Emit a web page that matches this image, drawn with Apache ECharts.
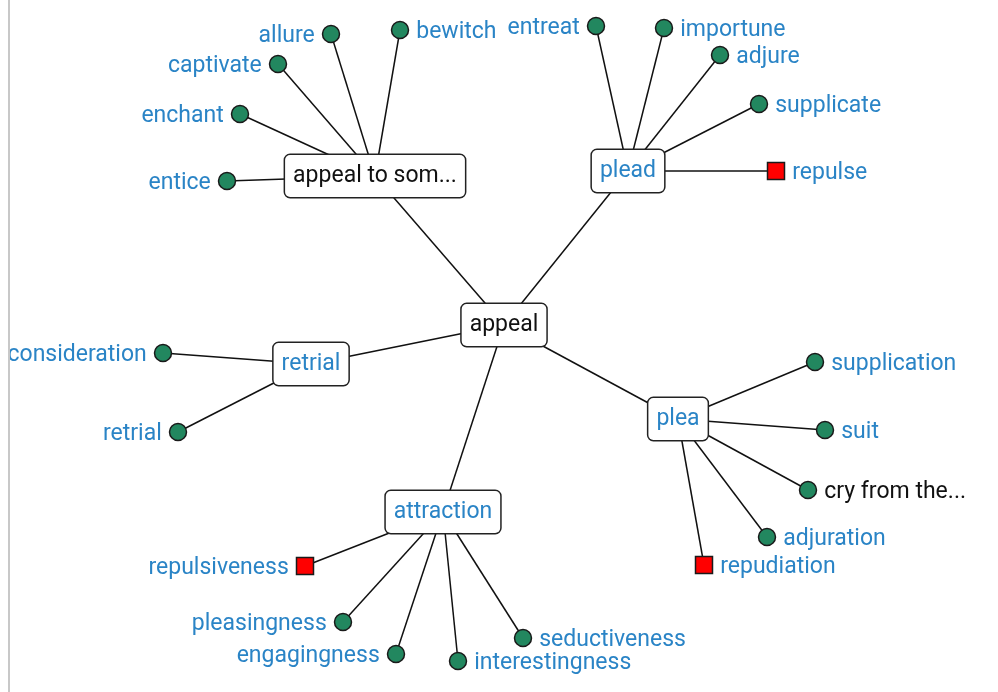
<!DOCTYPE html>
<html>
<head>
<meta charset="utf-8">
<script src="https://cdn.jsdelivr.net/npm/echarts@6/dist/echarts.min.js"></script>
<style>
  html, body { margin: 0; padding: 0; background: #fff; }
  #wrap { position: absolute; left: 8px; top: 0; width: 990px; height: 692px; border-left: 2px solid #c8c8c8; }
  #main { width: 988px; height: 692px; }
</style>
</head>
<body>
<div id="wrap"><div id="main"></div></div>
<script>
// hub words (boxed labels)
const hubNames = ['appeal', 'appeal to som...', 'plead', 'retrial', 'attraction', 'plea']
const hubX = [504, 375, 628, 311, 443, 678]
const hubY = [325, 176, 171, 364, 512, 419]
const hubDark = [true, true, false, false, false, false]

// leaf words: name, position, parent hub, kind (syn = circle, ant = square), label side
const leafNames = ['allure', 'bewitch', 'captivate', 'enchant', 'entice',
  'entreat', 'importune', 'adjure', 'supplicate', 'repulse',
  'consideration', 'retrial ',
  'repulsiveness', 'pleasingness', 'engagingness', 'interestingness', 'seductiveness',
  'supplication', 'suit', 'cry from the...', 'adjuration', 'repudiation']
const leafX = [331, 400, 278, 240, 227,
  596, 664, 720, 759, 776,
  163, 178,
  305, 343, 396, 458, 523,
  815, 825, 808, 767, 704]
const leafY = [34, 30, 64, 114, 181,
  26, 28, 55, 104, 171,
  353, 432,
  566, 622, 654, 661, 638,
  362, 430, 490, 537, 565]
const leafParent = [1, 1, 1, 1, 1,
  2, 2, 2, 2, 2,
  3, 3,
  4, 4, 4, 4, 4,
  5, 5, 5, 5, 5]
const leafKind = ['syn', 'syn', 'syn', 'syn', 'syn',
  'syn', 'syn', 'syn', 'syn', 'ant',
  'syn', 'syn',
  'ant', 'syn', 'syn', 'syn', 'syn',
  'syn', 'syn', 'syn', 'syn', 'ant']
const leafSide = ['left', 'right', 'left', 'left', 'left',
  'left', 'right', 'right', 'right', 'right',
  'left', 'left',
  'left', 'left', 'left', 'right', 'right',
  'right', 'right', 'right', 'right', 'right']
const leafDark = ['cry from the...']

const BLUE = '#2a84c6'
const GREEN = '#22875f'
const FS = 23

let nodes = []
let links = []

hubNames.forEach((name, i) => {
  nodes.push({
    name: name,
    value: [hubX[i], hubY[i]],
    symbol: 'circle',
    symbolSize: 1,
    itemStyle: { color: 'transparent', borderWidth: 0 },
    label: {
      show: true,
      position: 'inside',
      color: hubDark[i] ? '#111' : BLUE,
      fontSize: FS,
      backgroundColor: '#fff',
      borderColor: '#222',
      borderWidth: 1.5,
      borderRadius: 5,
      padding: [12, 8, 7, 8]
    }
  })
  if (i > 0) links.push({ source: hubNames[0], target: name })
})

leafNames.forEach((name, i) => {
  let ant = leafKind[i] == 'ant'
  nodes.push({
    name: name,
    value: [leafX[i], leafY[i]],
    symbol: ant ? 'rect' : 'circle',
    symbolSize: 17,
    itemStyle: { color: ant ? '#ff0000' : GREEN, borderColor: '#1a1a1a', borderWidth: 1.5 },
    label: {
      show: true,
      position: leafSide[i],
      distance: 7,
      offset: [0, 2],
      color: leafDark.indexOf(name) >= 0 ? '#111' : BLUE,
      fontSize: FS,
      formatter: name.trim()
    }
  })
  links.push({ source: hubNames[leafParent[i]], target: name })
})

const chart = echarts.init(document.getElementById('main'), null, { renderer: 'canvas' })
chart.setOption({
  animation: false,
  textStyle: { fontFamily: 'Roboto' },
  grid: { left: 0, right: 0, top: 0, bottom: 0 },
  xAxis: { type: 'value', min: 10, max: 998, show: false },
  yAxis: { type: 'value', min: 0, max: 692, inverse: true, show: false },
  series: [{
    type: 'graph',
    coordinateSystem: 'cartesian2d',
    layout: 'none',
    data: nodes,
    links: links,
    lineStyle: { color: '#111', width: 1.5, opacity: 1, curveness: 0 },
    emphasis: { disabled: true }
  }]
})
</script>
</body>
</html>
